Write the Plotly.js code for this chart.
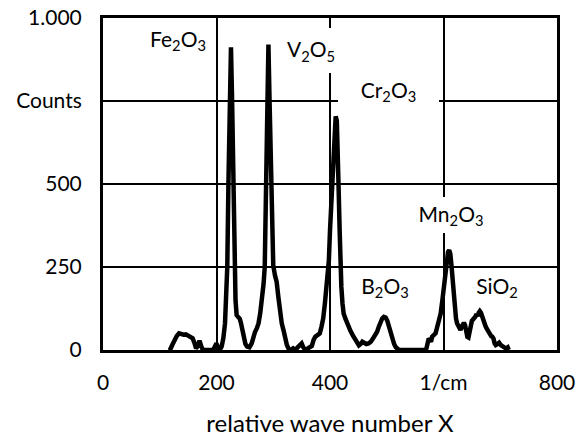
<!DOCTYPE html>
<html>
<head>
<meta charset="utf-8">
<script src="https://cdn.plot.ly/plotly-3.0.1.min.js"></script>
<style>html,body{margin:0;padding:0;background:#fff;}#chart{width:576px;height:437px;}</style>
</head>
<body>
<div id="chart"></div>
<script>
// wave number (1/cm)
const waveNumber = [
 115,118,122,126,130,134,138,142,146,150,154,158,161,164,167,170,173,176,185,194,
 197,200,203,206,209,212,215,217,219,221,223.5,225.5,227.5,230,232,233.5,235.5,238,241,243,
 245,247,249,251,254,258,262,265,268,271,274,277,280,283,285,286.5,288,289.5,291.5,293.5,
 295.5,297,298.5,300,303,306,309,312,315,318,321,324,327,331,335,339,343,347,350,353,
 357,361,365,368,371,374,378,382,385,388,391,394,396,398,400,402,404,406,408,410,
 412,414,415,417,418,420,422,424,427,430,433,436,440,444,448,451,454,457,460,464,
 468,472,476,480,483,486,489,492,495,498,501,504,507,510,513,516,519,522,540,560,
 568,570,572,574,576,578,580,583,586,589,592,595,598,601,604,606,608,610,612,614,
 616,618,620,622,624,626,628,630,632,634,636,638,640,642,644,646,648,650,652,654,
 656,658,660,662,664,666,668,670,672,674,676,678,680,682,684,686,688,690,692,695,
 698,701,704,707,710,713,715
];
// counts
const counts = [
 0,0,15,30,42,50,47,46,47,44,40,35,22,5,12,28,12,0,0,0,
 10,20,5,2,10,35,80,150,250,500,750,912,750,500,250,150,105,100,94,82,
 62,44,28,18,10,8,20,40,55,65,80,110,150,200,250,400,550,750,920,750,
 600,500,350,255,225,205,160,110,80,60,35,15,4,0,5,0,8,15,20,8,
 0,5,8,12,30,40,45,50,70,95,140,190,230,270,360,440,520,620,690,704,
 690,600,500,360,270,190,140,110,95,80,68,58,45,32,18,14,18,25,22,18,
 20,25,35,45,55,70,85,95,100,98,88,70,50,30,18,8,2,0,0,0,
 0,5,20,35,30,25,40,45,50,70,85,110,150,190,240,275,295,301,290,255,
 210,160,120,95,80,75,65,60,70,78,82,75,55,40,38,60,75,88,92,95,
 100,108,102,112,117,112,100,88,78,72,65,58,50,45,42,40,35,20,15,18,
 22,15,10,8,5,8,0
];
// tick labels
const xTickVals = [0,200,400,600,800];
const xTickText = ['0','200','400','1/cm','800'];
const yTickVals = [0,250,500,750,1000];
const yTickText = ['0','250','500','Counts','1.000'];
// peak labels
const labelText = ['Fe<sub>2</sub>O<sub>3</sub>','V<sub>2</sub>O<sub>5</sub>','Cr<sub>2</sub>O<sub>3</sub>','B<sub>2</sub>O<sub>3</sub>','Mn<sub>2</sub>O<sub>3</sub>','SiO<sub>2</sub>'];
const labelX = [132, 366, 503, 497, 613, 695];
const labelY = [933, 903, 779, 190, 406, 190];

const FONT = 'Lato, "Open Sans", sans-serif';
const boxW = [60, 60, 101, 50, 72, 50];
const boxH = [30, 45, 40, 24, 36, 24];
const boxBg = ['rgba(0,0,0,0)','#fff','#fff','rgba(0,0,0,0)','#fff','rgba(0,0,0,0)'];

const annotations = labelText.map((t,i)=>({
  x: labelX[i], y: labelY[i], xref:'x', yref:'y', text:t, showarrow:false,
  font:{family:FONT, size:21, color:'#000'},
  bgcolor: boxBg[i], borderpad:0, borderwidth:0,
  width: boxW[i], height: boxH[i], xanchor:'center', yanchor:'middle'
}));

const trace = {
  x: waveNumber, y: counts, type:'scatter', mode:'lines',
  line:{color:'#000', width:4.5}, hoverinfo:'skip', showlegend:false
};

const layout = {
  width:576, height:437,
  margin:{l:103, r:19, t:18, b:87},
  paper_bgcolor:'#fff', plot_bgcolor:'#fff',
  font:{family:FONT, size:21, color:'#000'},
  xaxis:{
    range:[0,800], tickvals:xTickVals, ticktext:xTickText,
    showgrid:true, gridcolor:'#000', gridwidth:2,
    showline:true, linecolor:'#000', linewidth:3, mirror:true,
    zeroline:false, ticks:'', ticklabelstandoff:12,
    tickfont:{family:FONT, size:21, color:'#000'},
    title:{text:'relative wave number X', font:{family:FONT, size:24, color:'#000'}, standoff:24},
    fixedrange:true
  },
  yaxis:{
    range:[0,1000], tickvals:yTickVals, ticktext:yTickText,
    showgrid:true, gridcolor:'#000', gridwidth:2,
    showline:true, linecolor:'#000', linewidth:3, mirror:true,
    zeroline:false, ticks:'', ticklabelstandoff:14,
    tickfont:{family:FONT, size:21, color:'#000'},
    fixedrange:true
  },
  annotations: annotations
};

Plotly.newPlot('chart', [trace], layout, {staticPlot:true, displayModeBar:false});
</script>
</body>
</html>
